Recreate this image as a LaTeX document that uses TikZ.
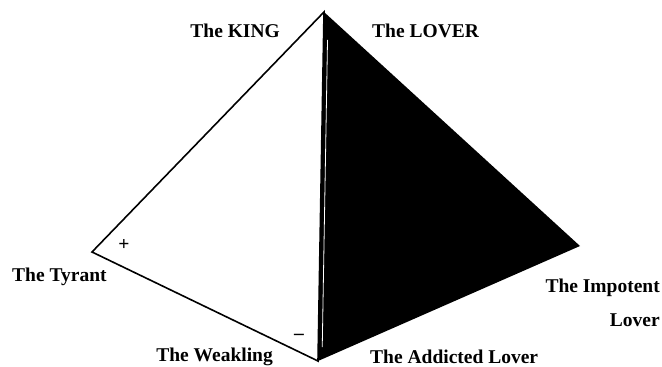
\documentclass[tikz,border=0pt]{standalone}
\usepackage{fontspec}
\setmainfont{Liberation Serif}
\usetikzlibrary{calc}
\begin{document}
\begin{tikzpicture}[x=1pt,y=-1pt,
  lbl/.style={font=\fontsize{19.5}{22}\selectfont\bfseries, inner sep=0pt},
  edge/.style={line width=1.6pt, line join=miter}]
\useasboundingbox (0,0) rectangle (662,367);
\coordinate (A) at (324,12);
\coordinate (L) at (92,252);
\coordinate (B) at (318,361);
\coordinate (R) at (580,246);
\fill[black] (A) -- (R) -- (B) -- cycle;
\draw[white, line width=0.8pt] ($(A)!0.08!(B)+(4,0)$) -- ($(A)!0.96!(B)+(4,0)$);
\draw[edge] (A) -- (L) -- (B) -- cycle;
\node[lbl, anchor=east] (king) at (280,31) {The KING};
\node[lbl, anchor=west] (lover) at (372,31) {The LOVER};
\node[lbl, anchor=west] (tyrant) at (12,277) {The Tyrant};
\node[lbl] (plus) at (124,245) {+};
\node[lbl] (minus) at (299,337) {\textendash};
\node[lbl, anchor=east] (weak) at (273,357) {The Weakling};
\node[lbl, anchor=west] (addict) at (370,357) {The Addicted Lover};
\node[lbl, anchor=east] (imp) at (660,288) {The Impotent};
\node[lbl, anchor=east] (implo) at (660,320) {Lover};
\end{tikzpicture}
\end{document}
